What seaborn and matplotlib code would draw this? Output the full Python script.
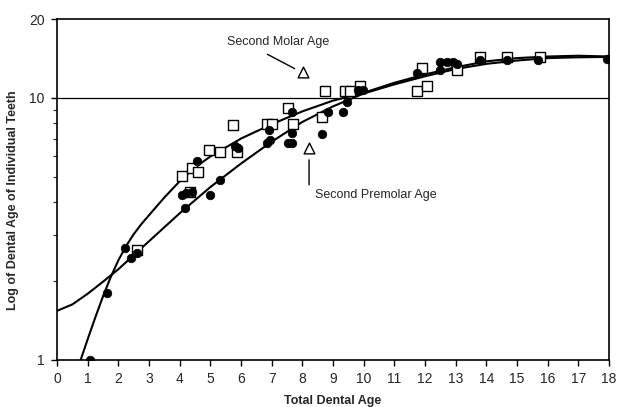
import numpy as np
import pandas as pd
import matplotlib
matplotlib.use("Agg")
import matplotlib.pyplot as plt
from matplotlib.ticker import FixedLocator, NullFormatter
import seaborn as sns

# open squares
sq_x = [2.61, 4.08, 4.34, 4.40, 4.60, 4.96, 5.31, 5.74, 5.87, 6.85, 7.01, 7.53, 7.69,
        8.64, 8.74, 9.39, 9.55, 9.88, 11.74, 11.90, 12.06, 13.04, 13.79, 14.67, 15.75]
sq_y = [2.63, 5.04, 4.38, 5.40, 5.22, 6.33, 6.22, 7.89, 6.22, 7.96, 7.96, 9.16, 7.96,
        8.46, 10.63, 10.63, 10.63, 11.1, 10.63, 13.0, 11.1, 12.8, 14.34, 14.34, 14.34]

# filled circles
ci_x = [1.08, 1.63, 2.22, 2.41, 2.61, 4.08, 4.17, 4.21, 4.40, 4.56, 4.99, 5.31, 5.80,
        5.90, 6.85, 6.94, 6.90, 7.53, 7.66, 7.66, 7.66, 8.64, 8.84, 9.33, 9.46, 9.81,
        9.98, 11.74, 12.49, 12.49, 12.72, 12.91, 13.04, 13.79, 14.67, 15.68, 17.93]
ci_y = [1.0, 1.80, 2.68, 2.45, 2.55, 4.27, 3.80, 4.34, 4.38, 5.75, 4.27, 4.86, 6.56,
        6.43, 6.73, 6.9, 7.55, 6.73, 6.73, 7.38, 8.87, 7.29, 8.87, 8.87, 9.66, 10.73,
        10.73, 12.45, 12.8, 13.7, 13.7, 13.7, 13.5, 13.96, 13.96, 13.96, 14.1]

# fitted curves
curve_a_x = [0, 0.5, 1, 1.5, 2, 2.5, 3, 3.5, 4, 5, 6, 7, 8, 9, 10,
             11, 12, 13, 14, 15, 16, 17, 18]
curve_a_y = [1.54, 1.63, 1.79, 1.99, 2.22, 2.51, 2.84, 3.21, 3.63, 4.57, 5.62, 6.81,
             8.1, 9.29, 10.4, 11.27, 12.1, 12.9, 13.5, 13.9, 14.2, 14.3, 14.35]
curve_b_x = [0.77, 1.0, 1.25, 1.5, 1.75, 2.0, 2.25, 2.5, 2.75, 3.0, 3.5, 4, 4.5, 5,
             6, 7, 8, 9, 10, 11, 12, 13, 14, 15, 16, 17, 18]
curve_b_y = [1.0, 1.2, 1.455, 1.75, 2.07, 2.4, 2.72, 3.02, 3.3, 3.57, 4.17, 4.81, 5.43,
             5.98, 7.0, 7.94, 8.89, 9.77, 10.47, 11.43, 12.3, 13.1, 13.8, 14.2, 14.4,
             14.5, 14.4]

# annotation triangles
tri_x = [8.02, 8.22]
tri_y = [12.6, 6.44]

sns.set_style("ticks")
plt.rcParams["font.family"] = ["Liberation Sans", "DejaVu Sans"]

fig = plt.figure(figsize=(6.17, 4.07), dpi=100)
ax = fig.add_axes([0.0924, 0.1155, 0.8946, 0.8375])

ax.set_yscale("log")
ax.axhline(10, color="black", lw=0.9, zorder=1)

ca = pd.DataFrame({"x": curve_a_x, "y": curve_a_y})
cb = pd.DataFrame({"x": curve_b_x, "y": curve_b_y})
sns.lineplot(data=ca, x="x", y="y", ax=ax, color="black", lw=1.5, estimator=None, zorder=2)
sns.lineplot(data=cb, x="x", y="y", ax=ax, color="black", lw=1.5, estimator=None, zorder=2)

sq = pd.DataFrame({"x": sq_x, "y": sq_y})
ci = pd.DataFrame({"x": ci_x, "y": ci_y})
sns.scatterplot(data=sq, x="x", y="y", ax=ax, marker="s", s=42, facecolor="white",
                edgecolor="black", linewidth=1.0, zorder=3)
sns.scatterplot(data=ci, x="x", y="y", ax=ax, marker="o", s=38, color="black",
                edgecolor="black", linewidth=0.5, zorder=4)
ax.scatter(tri_x, tri_y, marker="^", s=60, facecolor="white", edgecolor="black",
           linewidth=1.0, zorder=4)

ax.annotate("", xy=(7.83, 12.8), xytext=(6.78, 14.85),
            arrowprops=dict(arrowstyle="-", color="black", lw=1.0))
ax.text(5.54, 16.4, "Second Molar Age", fontsize=9, va="center", ha="left")
ax.annotate("", xy=(8.22, 5.95), xytext=(8.22, 4.55),
            arrowprops=dict(arrowstyle="-", color="black", lw=1.0))
ax.text(8.41, 4.26, "Second Premolar Age", fontsize=9, va="center", ha="left")

ax.set_xlim(0, 18)
ax.set_ylim(1, 20)
ax.set_xticks(range(0, 19))
ax.yaxis.set_major_locator(FixedLocator([1, 10, 20]))
ax.set_yticklabels(["1", "10", "20"])
ax.yaxis.set_minor_locator(FixedLocator([2, 3, 4, 5, 6, 7, 8, 9]))
ax.yaxis.set_minor_formatter(NullFormatter())
ax.tick_params(axis="both", which="major", labelsize=10, length=4, width=1,
               color="black", pad=5)
ax.tick_params(axis="y", which="minor", length=3, width=0.8)

for sp in ax.spines.values():
    sp.set_visible(True)
    sp.set_color("black")
    sp.set_linewidth(1.2)

ax.set_xlabel("Total Dental Age", fontsize=9, fontweight="bold", labelpad=6)
ax.set_ylabel("Log of Dental Age of Individual Teeth", fontsize=9, fontweight="bold")
ax.yaxis.set_label_coords(-0.068, 0.47)

fig.savefig("out.png", dpi=100)
